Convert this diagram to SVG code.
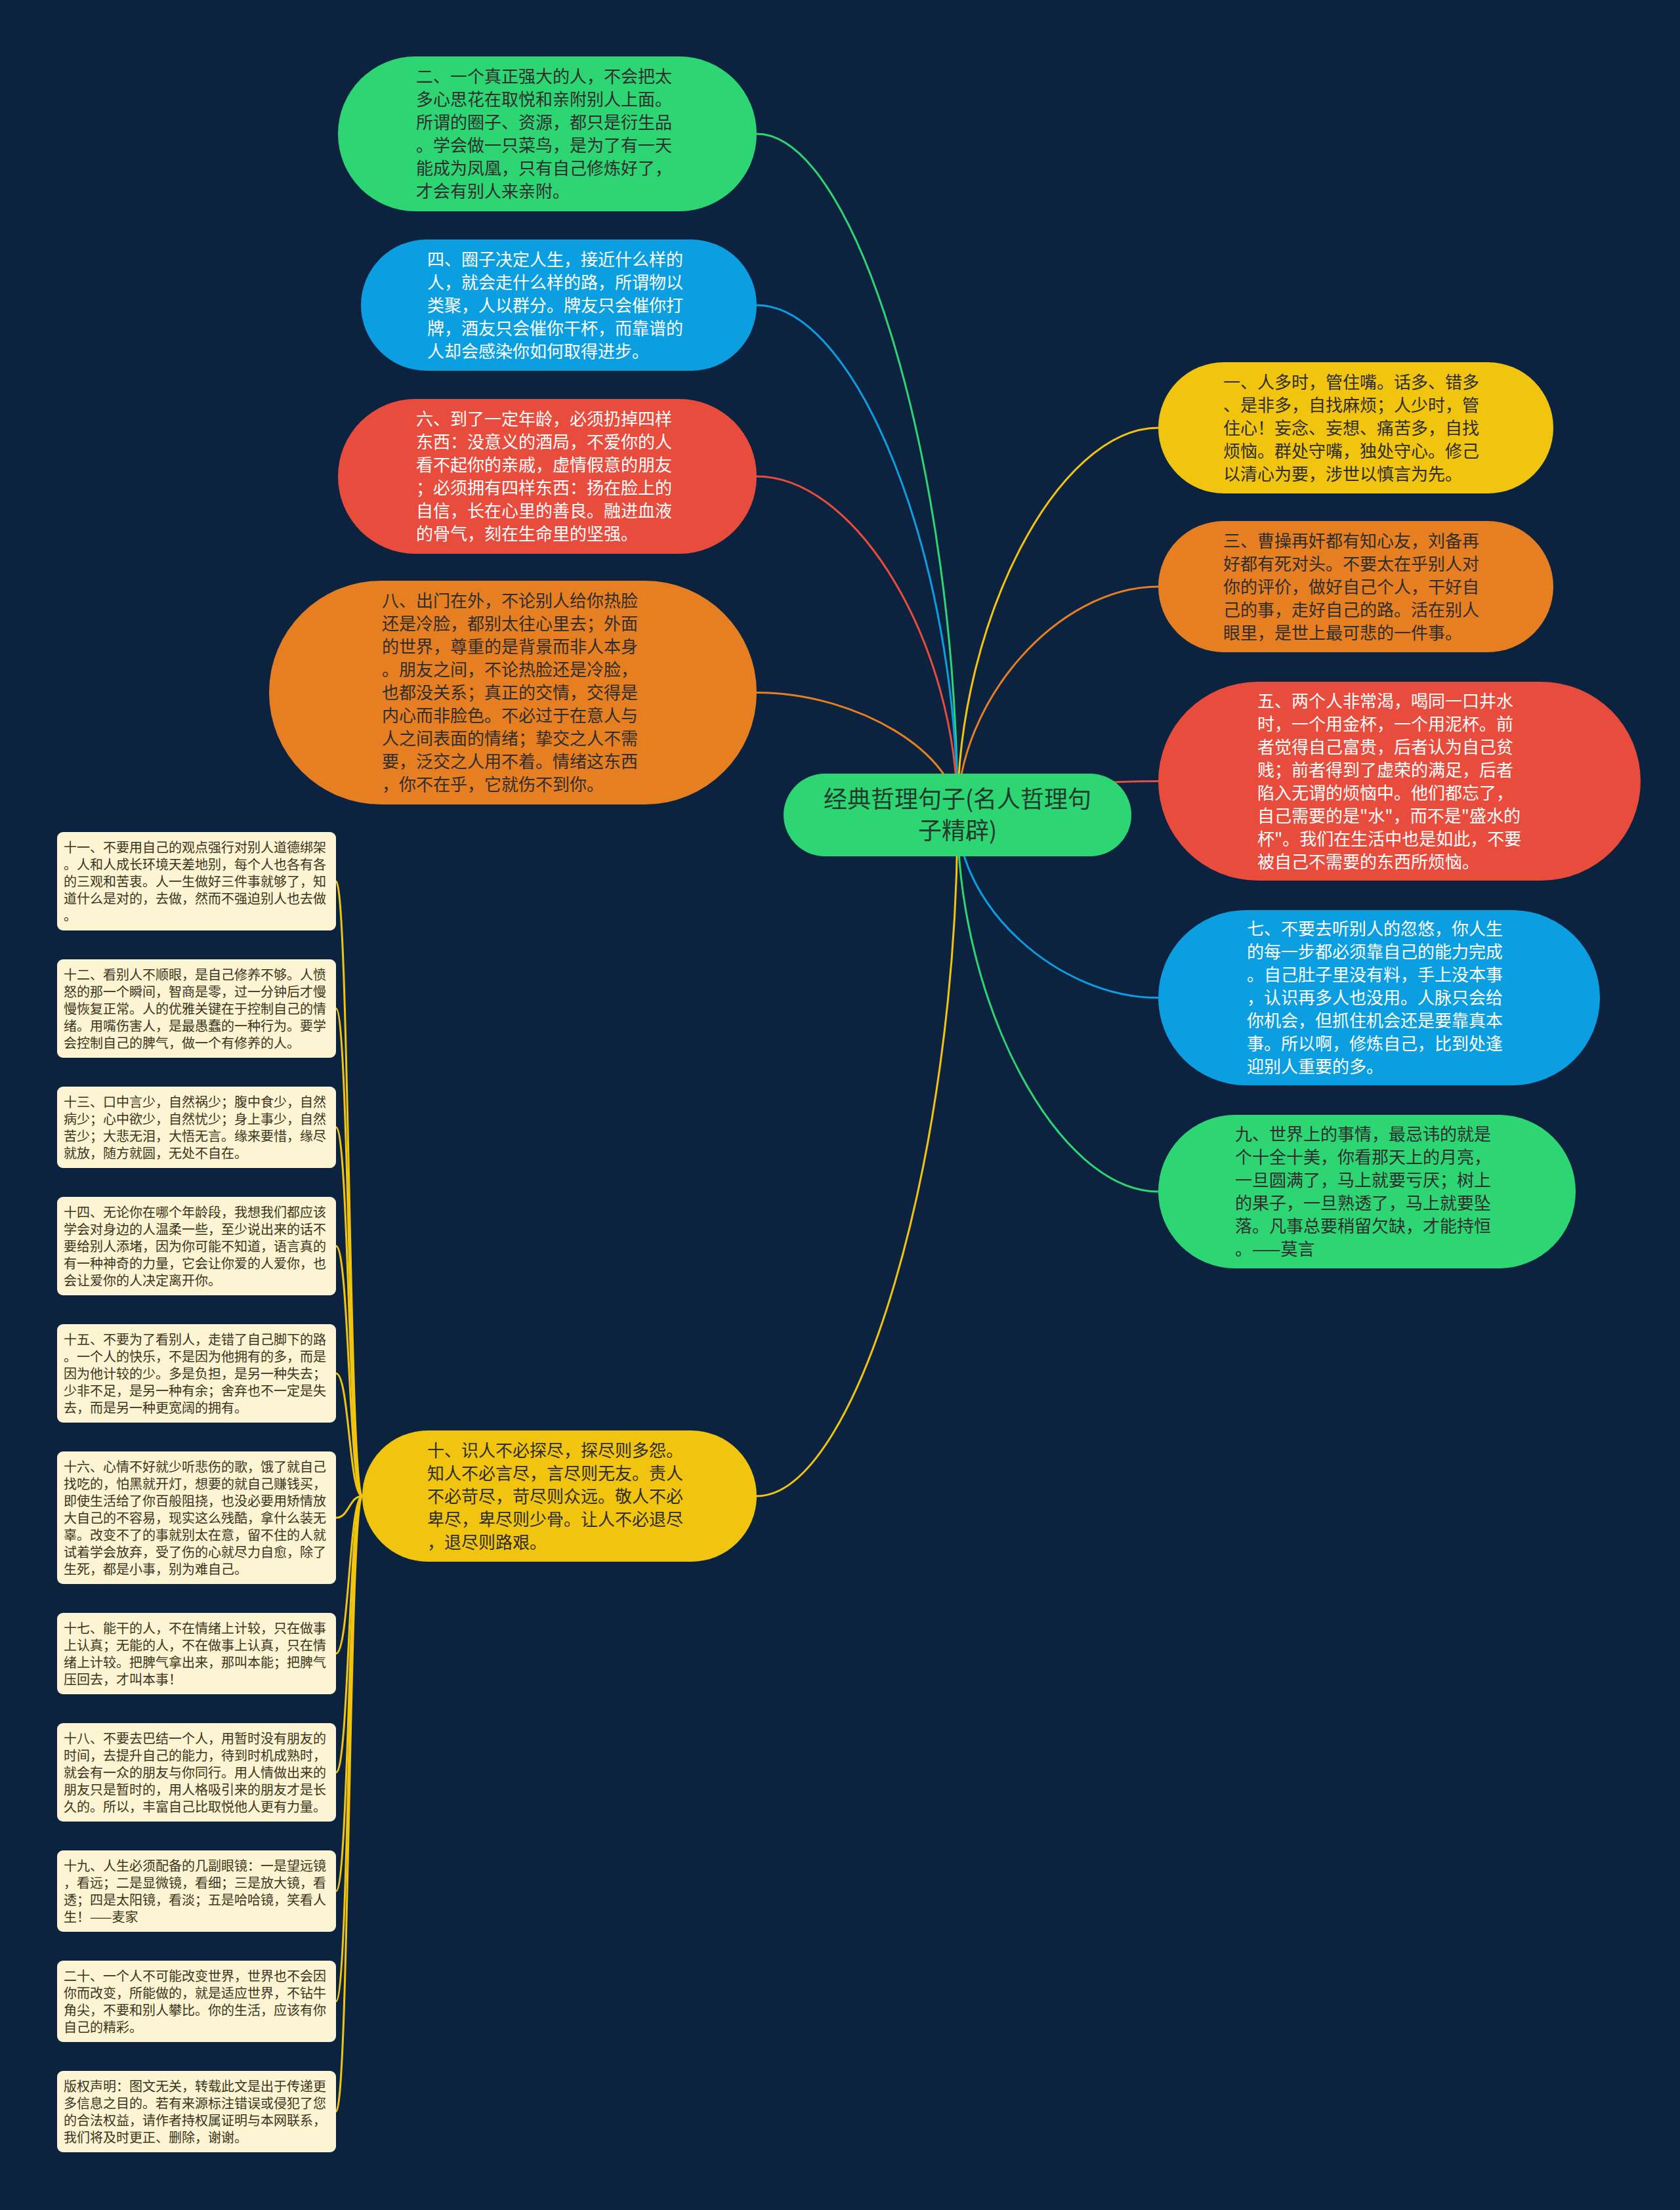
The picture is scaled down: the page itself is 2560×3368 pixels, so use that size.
<svg xmlns="http://www.w3.org/2000/svg" width="2560" height="3368" viewBox="0 0 2560 3368">
<style>
text{font-family:"Noto Sans CJK SC","Noto Sans",sans-serif}
.t26{font-size:26px}
.t20{font-size:20px;fill:#3a3420}
.dk{fill:#2e2e2e}
.wt{fill:#ffffff}
.note{fill:#fcf4d2}
.c{fill:none;stroke-width:3}
.green{fill:#2ed573}.blue{fill:#0b9ee0}.red{fill:#e84c3d}.orange{fill:#e67e22}.yellow{fill:#f1c40f}
.sg{stroke:#2ed573}.sb{stroke:#0b9ee0}.sr{stroke:#e84c3d}.so{stroke:#e67e22}.sy{stroke:#f1c40f}
</style>
<rect x="0" y="0" width="2560" height="3368" fill="#0c2340"/>
<g id="connectors">
<path class="c sg" d="M1459 1241 C1459 722.5 1306 204 1153 204"/>
<path class="c sb" d="M1459 1241 C1459 853 1306 465 1153 465"/>
<path class="c sr" d="M1459 1241 C1459 983.5 1306 726 1153 726"/>
<path class="c so" d="M1459 1241 C1459 1148 1306 1055.5 1153 1055.5"/>
<path class="c sy" d="M1459 1241 C1459 1760.5 1306 2280 1153 2280"/>
<path class="c sy" d="M1459 1241 C1459 946.5 1612 652 1765 652"/>
<path class="c so" d="M1459 1241 C1459 1068 1612 894 1765 894"/>
<path class="c sr" d="M1459 1241 C1459 1216 1612 1190.5 1765 1190.5"/>
<path class="c sb" d="M1459 1241 C1459 1381 1612 1520.5 1765 1520.5"/>
<path class="c sg" d="M1459 1241 C1459 1528.5 1612 1816 1765 1816"/>
<path class="c sy" d="M552 2280 C532 2280 532 1343 512 1343"/>
<path class="c sy" d="M552 2280 C532 2280 532 1537 512 1537"/>
<path class="c sy" d="M552 2280 C532 2280 532 1718 512 1718"/>
<path class="c sy" d="M552 2280 C532 2280 532 1899 512 1899"/>
<path class="c sy" d="M552 2280 C532 2280 532 2093 512 2093"/>
<path class="c sy" d="M552 2280 C532 2280 532 2313 512 2313"/>
<path class="c sy" d="M552 2280 C532 2280 532 2520 512 2520"/>
<path class="c sy" d="M552 2280 C532 2280 532 2701 512 2701"/>
<path class="c sy" d="M552 2280 C532 2280 532 2882 512 2882"/>
<path class="c sy" d="M552 2280 C532 2280 532 3050 512 3050"/>
<path class="c sy" d="M552 2280 C532 2280 532 3218 512 3218"/>
</g>
<g id="root">
<rect class="green" x="1194" y="1179" width="530" height="126" rx="63"/>
<text x="1459" y="1231" text-anchor="middle" style="font-size:36px;fill:#213a2c">经典哲理句子(名人哲理句<tspan x="1459" dy="48">子精辟)</tspan></text>
</g>
<g id="n2">
<rect class="green" x="515" y="86" width="638" height="236" rx="118"/>
<text class="t26 dk" x="634" y="126">二、一个真正强大的人，不会把太<tspan x="634" dy="35">多心思花在取悦和亲附别人上面。</tspan><tspan x="634" dy="35">所谓的圈子、资源，都只是衍生品</tspan><tspan x="634" dy="35">。学会做一只菜鸟，是为了有一天</tspan><tspan x="634" dy="35">能成为凤凰，只有自己修炼好了，</tspan><tspan x="634" dy="35">才会有别人来亲附。</tspan></text>
</g>
<g id="n4">
<rect class="blue" x="550" y="365" width="603" height="200" rx="100"/>
<text class="t26 wt" x="651" y="404.5">四、圈子决定人生，接近什么样的<tspan x="651" dy="35">人，就会走什么样的路，所谓物以</tspan><tspan x="651" dy="35">类聚，人以群分。牌友只会催你打</tspan><tspan x="651" dy="35">牌，酒友只会催你干杯，而靠谱的</tspan><tspan x="651" dy="35">人却会感染你如何取得进步。</tspan></text>
</g>
<g id="n6">
<rect class="red" x="515" y="608" width="638" height="236" rx="118"/>
<text class="t26 wt" x="634" y="648">六、到了一定年龄，必须扔掉四样<tspan x="634" dy="35">东西：没意义的酒局，不爱你的人</tspan><tspan x="634" dy="35">看不起你的亲戚，虚情假意的朋友</tspan><tspan x="634" dy="35">；必须拥有四样东西：扬在脸上的</tspan><tspan x="634" dy="35">自信，长在心里的善良。融进血液</tspan><tspan x="634" dy="35">的骨气，刻在生命里的坚强。</tspan></text>
</g>
<g id="n8">
<rect class="orange" x="410" y="885" width="743" height="341" rx="170.5"/>
<text class="t26 dk" x="582" y="925">八、出门在外，不论别人给你热脸<tspan x="582" dy="35">还是冷脸，都别太往心里去；外面</tspan><tspan x="582" dy="35">的世界，尊重的是背景而非人本身</tspan><tspan x="582" dy="35">。朋友之间，不论热脸还是冷脸，</tspan><tspan x="582" dy="35">也都没关系；真正的交情，交得是</tspan><tspan x="582" dy="35">内心而非脸色。不必过于在意人与</tspan><tspan x="582" dy="35">人之间表面的情绪；挚交之人不需</tspan><tspan x="582" dy="35">要，泛交之人用不着。情绪这东西</tspan><tspan x="582" dy="35">，你不在乎，它就伤不到你。</tspan></text>
</g>
<g id="n10">
<rect class="yellow" x="552" y="2180" width="601" height="200" rx="100"/>
<text class="t26 dk" x="651" y="2219.5">十、识人不必探尽，探尽则多怨。<tspan x="651" dy="35">知人不必言尽，言尽则无友。责人</tspan><tspan x="651" dy="35">不必苛尽，苛尽则众远。敬人不必</tspan><tspan x="651" dy="35">卑尽，卑尽则少骨。让人不必退尽</tspan><tspan x="651" dy="35">，退尽则路艰。</tspan></text>
</g>
<g id="n1">
<rect class="yellow" x="1765" y="552" width="602" height="200" rx="100"/>
<text class="t26 dk" x="1864" y="591.5">一、人多时，管住嘴。话多、错多<tspan x="1864" dy="35">、是非多，自找麻烦；人少时，管</tspan><tspan x="1864" dy="35">住心！妄念、妄想、痛苦多，自找</tspan><tspan x="1864" dy="35">烦恼。群处守嘴，独处守心。修己</tspan><tspan x="1864" dy="35">以清心为要，涉世以慎言为先。</tspan></text>
</g>
<g id="n3">
<rect class="orange" x="1765" y="794" width="602" height="200" rx="100"/>
<text class="t26 dk" x="1864" y="833.5">三、曹操再奸都有知心友，刘备再<tspan x="1864" dy="35">好都有死对头。不要太在乎别人对</tspan><tspan x="1864" dy="35">你的评价，做好自己个人，干好自</tspan><tspan x="1864" dy="35">己的事，走好自己的路。活在别人</tspan><tspan x="1864" dy="35">眼里，是世上最可悲的一件事。</tspan></text>
</g>
<g id="n5">
<rect class="red" x="1765" y="1039" width="735" height="303" rx="151.5"/>
<text class="t26 wt" x="1916" y="1077.5">五、两个人非常渴，喝同一口井水<tspan x="1916" dy="35">时，一个用金杯，一个用泥杯。前</tspan><tspan x="1916" dy="35">者觉得自己富贵，后者认为自己贫</tspan><tspan x="1916" dy="35">贱；前者得到了虚荣的满足，后者</tspan><tspan x="1916" dy="35">陷入无谓的烦恼中。他们都忘了，</tspan><tspan x="1916" dy="35">自己需要的是"水"，而不是"盛水的</tspan><tspan x="1916" dy="35">杯"。我们在生活中也是如此，不要</tspan><tspan x="1916" dy="35">被自己不需要的东西所烦恼。</tspan></text>
</g>
<g id="n7">
<rect class="blue" x="1765" y="1387" width="673" height="267" rx="133.5"/>
<text class="t26 wt" x="1900" y="1425">七、不要去听别人的忽悠，你人生<tspan x="1900" dy="35">的每一步都必须靠自己的能力完成</tspan><tspan x="1900" dy="35">。自己肚子里没有料，手上没本事</tspan><tspan x="1900" dy="35">，认识再多人也没用。人脉只会给</tspan><tspan x="1900" dy="35">你机会，但抓住机会还是要靠真本</tspan><tspan x="1900" dy="35">事。所以啊，修炼自己，比到处逢</tspan><tspan x="1900" dy="35">迎别人重要的多。</tspan></text>
</g>
<g id="n9">
<rect class="green" x="1765" y="1699" width="636" height="234" rx="117"/>
<text class="t26 dk" x="1882" y="1738">九、世界上的事情，最忌讳的就是<tspan x="1882" dy="35">个十全十美，你看那天上的月亮，</tspan><tspan x="1882" dy="35">一旦圆满了，马上就要亏厌；树上</tspan><tspan x="1882" dy="35">的果子，一旦熟透了，马上就要坠</tspan><tspan x="1882" dy="35">落。凡事总要稍留欠缺，才能持恒</tspan><tspan x="1882" dy="35">。——莫言</tspan></text>
</g>
<g id="n11">
<rect class="note" x="87" y="1268" width="425" height="150" rx="9"/>
<text class="t20" x="97" y="1299">十一、不要用自己的观点强行对别人道德绑架<tspan x="97" dy="26">。人和人成长环境天差地别，每个人也各有各</tspan><tspan x="97" dy="26">的三观和苦衷。人一生做好三件事就够了，知</tspan><tspan x="97" dy="26">道什么是对的，去做，然而不强迫别人也去做</tspan><tspan x="97" dy="26">。</tspan></text>
</g>
<g id="n12">
<rect class="note" x="87" y="1462" width="425" height="150" rx="9"/>
<text class="t20" x="97" y="1493">十二、看别人不顺眼，是自己修养不够。人愤<tspan x="97" dy="26">怒的那一个瞬间，智商是零，过一分钟后才慢</tspan><tspan x="97" dy="26">慢恢复正常。人的优雅关键在于控制自己的情</tspan><tspan x="97" dy="26">绪。用嘴伤害人，是最愚蠢的一种行为。要学</tspan><tspan x="97" dy="26">会控制自己的脾气，做一个有修养的人。</tspan></text>
</g>
<g id="n13">
<rect class="note" x="87" y="1656" width="425" height="124" rx="9"/>
<text class="t20" x="97" y="1687">十三、口中言少，自然祸少；腹中食少，自然<tspan x="97" dy="26">病少；心中欲少，自然忧少；身上事少，自然</tspan><tspan x="97" dy="26">苦少；大悲无泪，大悟无言。缘来要惜，缘尽</tspan><tspan x="97" dy="26">就放，随方就圆，无处不自在。</tspan></text>
</g>
<g id="n14">
<rect class="note" x="87" y="1824" width="425" height="150" rx="9"/>
<text class="t20" x="97" y="1855">十四、无论你在哪个年龄段，我想我们都应该<tspan x="97" dy="26">学会对身边的人温柔一些，至少说出来的话不</tspan><tspan x="97" dy="26">要给别人添堵，因为你可能不知道，语言真的</tspan><tspan x="97" dy="26">有一种神奇的力量，它会让你爱的人爱你，也</tspan><tspan x="97" dy="26">会让爱你的人决定离开你。</tspan></text>
</g>
<g id="n15">
<rect class="note" x="87" y="2018" width="425" height="150" rx="9"/>
<text class="t20" x="97" y="2049">十五、不要为了看别人，走错了自己脚下的路<tspan x="97" dy="26">。一个人的快乐，不是因为他拥有的多，而是</tspan><tspan x="97" dy="26">因为他计较的少。多是负担，是另一种失去；</tspan><tspan x="97" dy="26">少非不足，是另一种有余；舍弃也不一定是失</tspan><tspan x="97" dy="26">去，而是另一种更宽阔的拥有。</tspan></text>
</g>
<g id="n16">
<rect class="note" x="87" y="2212" width="425" height="202" rx="9"/>
<text class="t20" x="97" y="2243">十六、心情不好就少听悲伤的歌，饿了就自己<tspan x="97" dy="26">找吃的，怕黑就开灯，想要的就自己赚钱买，</tspan><tspan x="97" dy="26">即使生活给了你百般阻挠，也没必要用矫情放</tspan><tspan x="97" dy="26">大自己的不容易，现实这么残酷，拿什么装无</tspan><tspan x="97" dy="26">辜。改变不了的事就别太在意，留不住的人就</tspan><tspan x="97" dy="26">试着学会放弃，受了伤的心就尽力自愈，除了</tspan><tspan x="97" dy="26">生死，都是小事，别为难自己。</tspan></text>
</g>
<g id="n17">
<rect class="note" x="87" y="2458" width="425" height="124" rx="9"/>
<text class="t20" x="97" y="2489">十七、能干的人，不在情绪上计较，只在做事<tspan x="97" dy="26">上认真；无能的人，不在做事上认真，只在情</tspan><tspan x="97" dy="26">绪上计较。把脾气拿出来，那叫本能；把脾气</tspan><tspan x="97" dy="26">压回去，才叫本事！</tspan></text>
</g>
<g id="n18">
<rect class="note" x="87" y="2626" width="425" height="150" rx="9"/>
<text class="t20" x="97" y="2657">十八、不要去巴结一个人，用暂时没有朋友的<tspan x="97" dy="26">时间，去提升自己的能力，待到时机成熟时，</tspan><tspan x="97" dy="26">就会有一众的朋友与你同行。用人情做出来的</tspan><tspan x="97" dy="26">朋友只是暂时的，用人格吸引来的朋友才是长</tspan><tspan x="97" dy="26">久的。所以，丰富自己比取悦他人更有力量。</tspan></text>
</g>
<g id="n19">
<rect class="note" x="87" y="2820" width="425" height="124" rx="9"/>
<text class="t20" x="97" y="2851">十九、人生必须配备的几副眼镜：一是望远镜<tspan x="97" dy="26">，看远；二是显微镜，看细；三是放大镜，看</tspan><tspan x="97" dy="26">透；四是太阳镜，看淡；五是哈哈镜，笑看人</tspan><tspan x="97" dy="26">生！——麦家</tspan></text>
</g>
<g id="n20">
<rect class="note" x="87" y="2988" width="425" height="124" rx="9"/>
<text class="t20" x="97" y="3019">二十、一个人不可能改变世界，世界也不会因<tspan x="97" dy="26">你而改变，所能做的，就是适应世界，不钻牛</tspan><tspan x="97" dy="26">角尖，不要和别人攀比。你的生活，应该有你</tspan><tspan x="97" dy="26">自己的精彩。</tspan></text>
</g>
<g id="n21">
<rect class="note" x="87" y="3156" width="425" height="124" rx="9"/>
<text class="t20" x="97" y="3187">版权声明：图文无关，转载此文是出于传递更<tspan x="97" dy="26">多信息之目的。若有来源标注错误或侵犯了您</tspan><tspan x="97" dy="26">的合法权益，请作者持权属证明与本网联系，</tspan><tspan x="97" dy="26">我们将及时更正、删除，谢谢。</tspan></text>
</g>
</svg>
